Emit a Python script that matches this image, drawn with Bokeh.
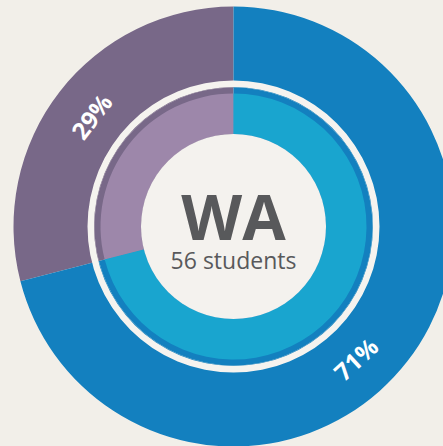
import math
from bokeh.plotting import figure
from bokeh.models import Range1d, ColumnDataSource
from bokeh.core.properties import value
from bokeh.embed import file_html
from bokeh.resources import INLINE

# ---- data ----
categories = ["Other", "WA"]
shares = [29, 71]
label_texts = ["29%", "71%"]
region = "WA"
students_label = "56 students"

# ---- style ----
BG = "#f2efe9"
outer_colors = ["#786888", "#1380bf"]
inner_colors = ["#9d87aa", "#19a5cf"]
TEXT_COLOR = "#58595b"
LABEL_NUDGE_DEG = [0, -9.5]  # visual nudge of label along the ring

R_OUT = 220
R_OUT_IN = 139
R_WHITE_IN = 139.5
R_WHITE_OUT = 146
R_IN_OUT = 133
R_IN_IN = 92.5
R_LABEL = 180

W, H = 443, 446
CX, CY = 233, 226  # centre position in figure pixels (from left, from top)

total = sum(shares)
starts, ends, mids = [], [], []
a = math.pi / 2
for s in shares:
    span = 2 * math.pi * s / total
    starts.append(a)
    ends.append(a + span)
    mids.append(a + span / 2)
    a += span

src = ColumnDataSource(dict(
    cat=categories, start=starts, end=ends,
    outer=outer_colors, inner=inner_colors,
))

p = figure(width=W, height=H, output_backend="svg", toolbar_location=None,
           x_range=Range1d(-CX, W - CX), y_range=Range1d(-(H - CY), CY),
           min_border=0)
p.axis.visible = False
p.xgrid.visible = False
p.ygrid.visible = False
p.outline_line_color = None
p.background_fill_color = BG
p.border_fill_color = BG

p.annular_wedge(x=0, y=0, inner_radius=R_OUT_IN, outer_radius=R_OUT,
                start_angle="start", end_angle="end", fill_color="outer",
                line_color=None, source=src)
p.annulus(x=0, y=0, inner_radius=R_WHITE_IN, outer_radius=R_WHITE_OUT,
          fill_color="#f5f3ef", line_color=None)
p.annular_wedge(x=0, y=0, inner_radius=R_IN_IN - 1, outer_radius=R_OUT_IN,
                start_angle="start", end_angle="end", fill_color="outer",
                line_color=None, source=src)
p.annular_wedge(x=0, y=0, inner_radius=R_IN_IN, outer_radius=R_IN_OUT,
                start_angle="start", end_angle="end", fill_color="inner",
                line_color=None, source=src)
p.circle(x=0, y=0, radius=R_IN_IN, fill_color="#f4f2ee", line_color=None)

lpos = [m + math.radians(n) for m, n in zip(mids, LABEL_NUDGE_DEG)]
lx = [R_LABEL * math.cos(m) for m in lpos]
ly = [R_LABEL * math.sin(m) for m in lpos]
la = []
for m in lpos:
    ang = (m - math.pi / 2) % (2 * math.pi)
    if math.pi / 2 < ang < 3 * math.pi / 2:
        ang += math.pi
    la.append(ang)
p.text(x=lx, y=ly, text=label_texts, angle=la, text_color="white",
       text_font=value("Open Sans"), text_font_style="bold",
       text_font_size="24px", text_align="center", text_baseline="middle")

p.text(x=[0], y=[11], text=[region], text_color=TEXT_COLOR,
       text_font=value("Open Sans"), text_font_style="bold",
       text_font_size="63px", text_align="center", text_baseline="middle")
p.text(x=[0], y=[-33], text=[students_label], text_color=TEXT_COLOR,
       text_font=value("Open Sans"), text_font_size="23px",
       text_align="center", text_baseline="middle")

template = """
{% block postamble %}
<style>html, body { background: #f2efe9; margin: 0; padding: 0; overflow: hidden; }</style>
{% endblock %}
"""
open("out.html", "w").write(file_html(p, INLINE, template=template))
